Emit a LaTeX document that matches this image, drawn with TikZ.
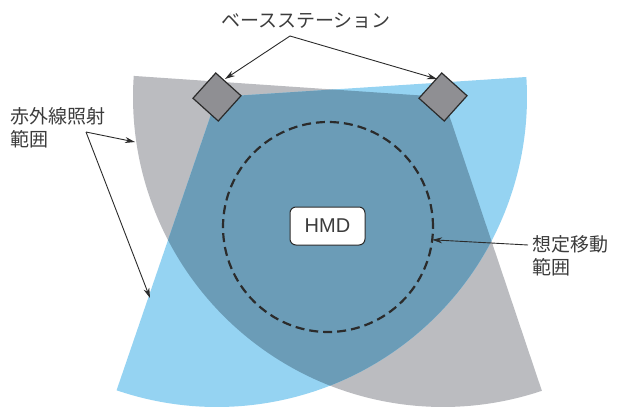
\documentclass[tikz,border=0pt]{standalone}
\usepackage{fontspec}
\setmainfont{Liberation Sans}
\newfontfamily\jpfont{Noto Sans CJK JP}
\usetikzlibrary{arrows.meta}
\definecolor{secgray}{HTML}{BBBCC0}
\definecolor{secblue}{HTML}{95D3F2}
\definecolor{secmix}{HTML}{6B9CB7}
\definecolor{stfill}{HTML}{8F8F93}
\definecolor{ink}{HTML}{2B2B2B}
\definecolor{txt}{HTML}{3C3C3C}
\begin{document}
\begin{tikzpicture}[x=1pt,y=1pt,
  station/.style={draw=ink, line width=1.2pt, fill=stfill, minimum size=34pt, inner sep=0pt, outer sep=0pt, rotate=48},
  jptext/.style={font=\jpfont\fontsize{19}{23}\selectfont, text=txt, align=left, inner sep=0pt},
  pointer/.style={draw=ink, line width=0.9pt, -{Stealth[length=10pt, width=6pt]}},
  movezone/.style={circle, draw=ink, line width=2.2pt, dash pattern=on 9pt off 5pt, minimum size=210pt, inner sep=0pt, outer sep=0pt},
  hmdbox/.style={draw=ink, fill=white, rounded corners=6pt, line width=1pt, minimum width=75pt, minimum height=38pt, font=\fontsize{20}{24}\selectfont, text=txt}]
\useasboundingbox (0,0) rectangle (618,408);
\coordinate (L) at (217,311);
\coordinate (R) at (443,311);
\fill[secgray] (R) -- ++(176.1:310) arc[start angle=176.1, end angle=288.6, radius=310] -- cycle;
\fill[secblue] (L) -- ++(3.7:310) arc[start angle=3.7, end angle=-108.9, radius=310] -- cycle;
\begin{scope}
  \clip (R) -- ++(176.1:310) arc[start angle=176.1, end angle=288.6, radius=310] -- cycle;
  \fill[secmix] (L) -- ++(3.7:310) arc[start angle=3.7, end angle=-108.9, radius=310] -- cycle;
\end{scope}
\node[station] (ls) at (L) {};
\node[station] (rs) at (R) {};
\node[movezone] (mv) at (328,181) {};
\node[hmdbox] (hmd) at (327.5,182) {HMD};
\node[jptext] (bs) at (306,387) {ベースステーション};
\node[jptext, anchor=west] (ir) at (10,280.5) {赤外線照射\\範囲};
\node[jptext, anchor=west] (mr) at (532,152) {想定移動\\範囲};
\coordinate (bsA) at (290,372);
\coordinate (lsT) at (225,329);
\coordinate (rsT) at (437,329);
\draw[pointer] (bsA) -- (lsT);
\draw[pointer] (bsA) -- (rsT);
\coordinate (irA) at (86,276);
\coordinate (grayT) at (135,266);
\coordinate (blueT) at (150,110);
\draw[pointer] (irA) -- (grayT);
\draw[pointer] (irA) -- (blueT);
\coordinate (mrA) at (528,163);
\draw[pointer] (mrA) -- (mv.-7.7);
\end{tikzpicture}
\end{document}
